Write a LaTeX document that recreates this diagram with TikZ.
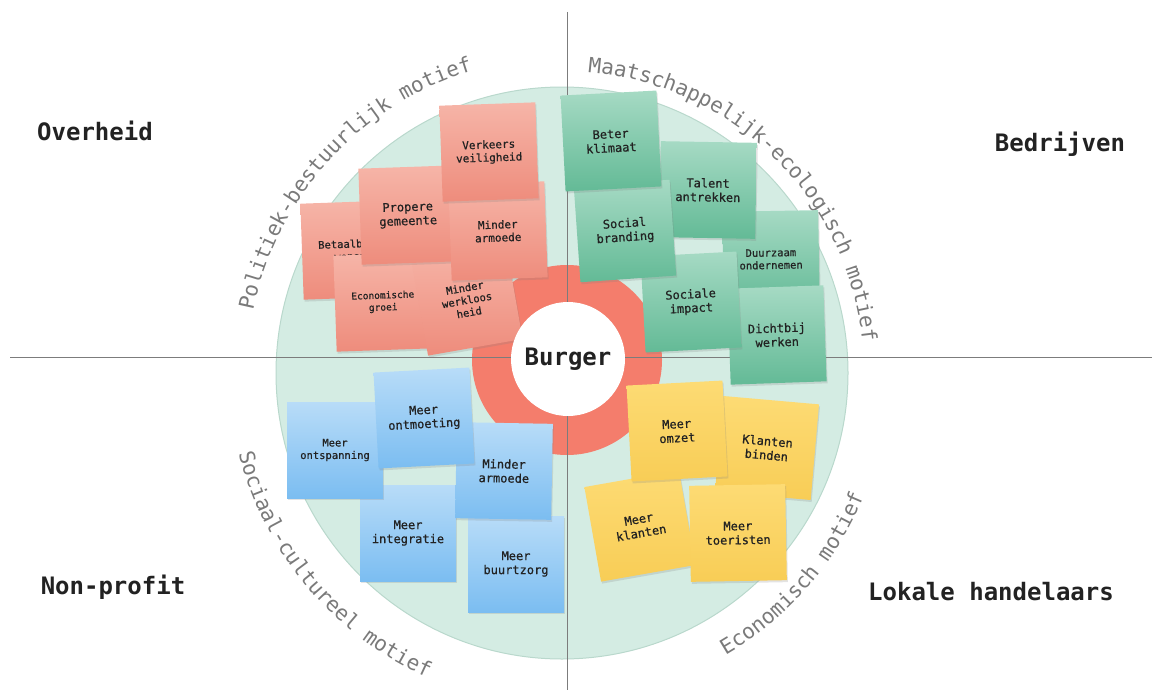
\documentclass[tikz,border=0pt]{standalone}
\usepackage{fontspec}
\setmonofont{DejaVu Sans Mono}
\newfontfamily\notefont[FakeBold=0.6]{DejaVu Sans Mono}
\usetikzlibrary{shadows,decorations.text}
\definecolor{ink}{HTML}{222222}
\definecolor{motivegray}{HTML}{7A7A7A}
\definecolor{axisgray}{HTML}{7C7C7C}
\definecolor{disk}{HTML}{D4ECE3}
\definecolor{diskrim}{HTML}{B9D8CC}
\definecolor{ring}{HTML}{F47D6C}
\definecolor{redtop}{HTML}{F6B5A8}
\definecolor{redbot}{HTML}{EE8C7C}
\definecolor{greentop}{HTML}{A6DAC4}
\definecolor{greenbot}{HTML}{63BA96}
\definecolor{bluetop}{HTML}{B8DCF8}
\definecolor{bluebot}{HTML}{7BBDF1}
\definecolor{yellowtop}{HTML}{FDDB74}
\definecolor{yellowbot}{HTML}{F8CD56}

\begin{document}
\begin{tikzpicture}[x=1pt,y=1pt]
	% size of each note
	\def\sz{96pt}
	\def\rdisk{286}
	% node style definition
	\tikzstyle{note} = [rectangle, minimum size=\sz, inner sep=2pt, align=center, text=ink, font=\notefont\fontsize{12}{14}\selectfont, drop shadow={opacity=0.22, shadow xshift=1pt, shadow yshift=-2pt}];
	\tikzstyle{rednote} = [note, top color=redtop, bottom color=redbot];
	\tikzstyle{greennote} = [note, top color=greentop, bottom color=greenbot];
	\tikzstyle{bluenote} = [note, top color=bluetop, bottom color=bluebot];
	\tikzstyle{yellownote} = [note, top color=yellowtop, bottom color=yellowbot];
	\tikzstyle{small} = [font=\notefont\fontsize{10.5}{12.5}\selectfont];
	\tikzstyle{actor} = [text=ink, font=\ttfamily\bfseries\fontsize{24}{24}\selectfont];
	\tikzstyle{axis} = [draw=axisgray, line width=0.9pt];
	\tikzstyle{motive} = [decorate, decoration={text along path, text align=center}];

	\useasboundingbox (0,0) rectangle (1154,-693);
	\coordinate (cc) at (562,-373);
	\coordinate (core) at (567,-360);

	% background disk and ring
	\fill[disk, draw=diskrim, line width=1pt] (cc) circle (\rdisk);
	\fill[ring] (core) circle (95);
	\draw[axis] (10,-357) -- (1152,-357);
	\draw[axis] (567,-12) -- (567,-690);

	% motives
	\path[motive, decoration={text={|\ttfamily\fontsize{21}{21}\selectfont\color{motivegray}|Politiek-bestuurlijk motief}}]
		(cc) ++(175:315) arc[start angle=175, end angle=100, radius=315];
	\path[motive, decoration={text={|\ttfamily\fontsize{21}{21}\selectfont\color{motivegray}|Maatschappelijk-ecologisch motief}}]
		(cc) ++(91:302) arc[start angle=91, end angle=0, radius=302];
	\path[motive, decoration={text={|\ttfamily\fontsize{21}{21}\selectfont\color{motivegray}|Sociaal-cultureel motief}}]
		(cc) ++(186:333) arc[start angle=186, end angle=254, radius=333];
	\path[motive, decoration={text={|\ttfamily\fontsize{21}{21}\selectfont\color{motivegray}|Economisch motief}}]
		(cc) ++(-63:326) arc[start angle=-63, end angle=-19, radius=326];

	% overheid
	\node[rednote, small, rotate=2] (betaalbaar) at (350,-250) {Betaalbaar\\wonen};
	\node[rednote, font=\notefont\fontsize{9.5}{12}\selectfont, rotate=2] (economisch) at (383,-302) {Economische\\groei};
	\node[rednote, small, rotate=10] (werkloos) at (467,-300) {Minder\\werkloos\\heid};
	\node[rednote, rotate=2] (propere) at (408,-215) {Propere\\gemeente};
	\node[rednote, font=\notefont\fontsize{11}{13}\selectfont, rotate=2] (armoedeo) at (498,-231) {Minder\\armoede};
	\node[rednote, font=\notefont\fontsize{11}{13}\selectfont, rotate=2] (verkeer) at (489,-152) {Verkeers\\veiligheid};

	% bedrijven
	\node[greennote, small, rotate=1] (duurzaam) at (771,-259) {Duurzaam\\ondernemen};
	\node[greennote, rotate=-1] (talent) at (708,-190) {Talent\\antrekken};
	\node[greennote, rotate=2] (dichtbij) at (777,-335) {Dichtbij\\werken};
	\node[greennote, rotate=3] (impact) at (691,-302) {Sociale\\impact};
	\node[greennote, rotate=4] (branding) at (625,-231) {Social\\branding};
	\node[greennote, rotate=3] (klimaat) at (611,-141) {Beter\\klimaat};

	% non-profit
	\node[bluenote] (integratie) at (408,-533) {Meer\\integratie};
	\node[bluenote] (buurtzorg) at (516,-564) {Meer\\buurtzorg};
	\node[bluenote, rotate=-1] (armoeden) at (504,-471) {Minder\\armoede};
	\node[bluenote, small] (ontspanning) at (335,-450) {Meer\\ontspanning};
	\node[bluenote, rotate=3] (ontmoeting) at (424,-418) {Meer\\ontmoeting};

	% lokale handelaars
	\node[yellownote, rotate=-5] (binden) at (767,-448) {Klanten\\binden};
	\node[yellownote, rotate=10] (klanten) at (640,-526) {Meer\\klanten};
	\node[yellownote, rotate=3] (omzet) at (677,-431) {Meer\\omzet};
	\node[yellownote, rotate=1] (toeristen) at (738,-533) {Meer\\toeristen};

	% burger in the middle
	\node[circle, fill=white, minimum size=114pt, actor] (burger) at (568,-359) {Burger};

	% actors
	\node[actor] (overheid) at (95,-131) {Overheid};
	\node[actor] (bedrijven) at (1060,-144) {Bedrijven};
	\node[actor] (nonprofit) at (113,-587) {Non-profit};
	\node[actor] (handelaars) at (991,-592) {Lokale handelaars};
\end{tikzpicture}
\end{document}
